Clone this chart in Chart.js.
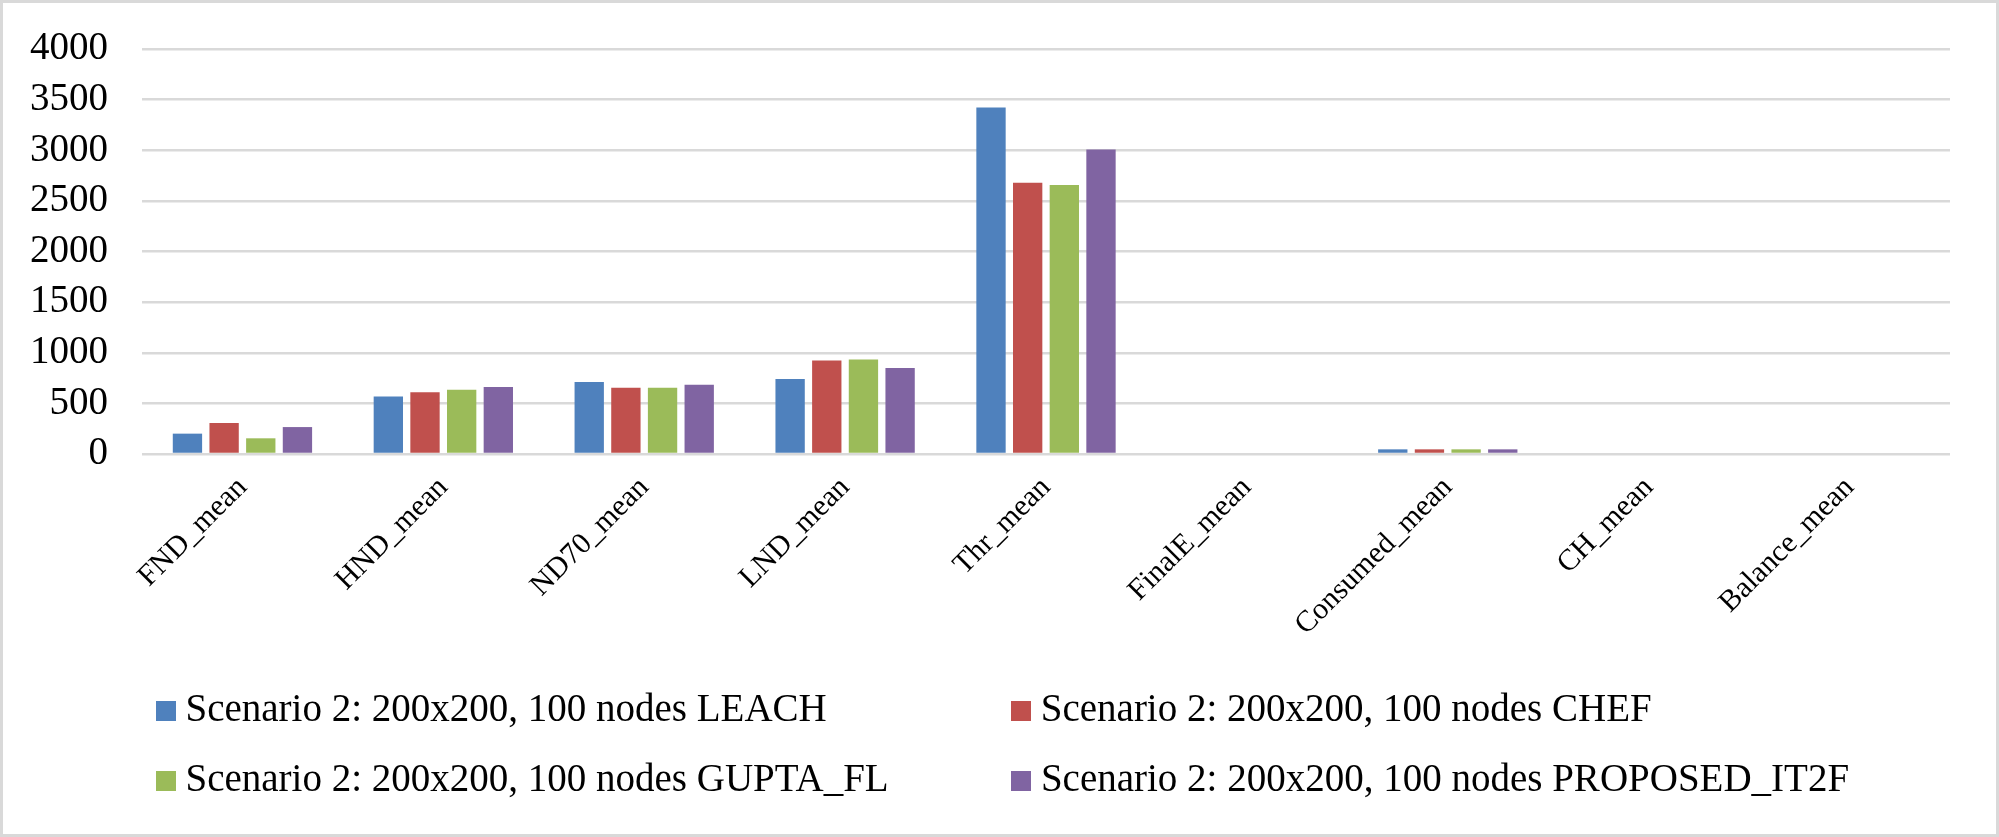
<!DOCTYPE html>
<html>
<head>
<meta charset="utf-8">
<script src="https://cdn.jsdelivr.net/npm/chart.js@4.4.0/dist/chart.umd.min.js"></script>
<style>
    html, body { margin: 0; padding: 0; background: #ffffff; }
    #wrap { width: 1999px; height: 837px; box-sizing: border-box; border: 3px solid #d9d9d9; }
    canvas { display: block; }
</style>
</head>
<body>
<div id="wrap"><canvas id="chart" width="1993" height="831"></canvas></div>
<script>
const categories = ['FND_mean', 'HND_mean', 'ND70_mean', 'LND_mean', 'Thr_mean', 'FinalE_mean', 'Consumed_mean', 'CH_mean', 'Balance_mean'];

const leach = [201, 569, 711, 740, 3422, 0, 46, 0, 0];
const chef = [306, 609, 655, 924, 2678, 0, 46, 0, 0];
const gupta = [155, 635, 655, 934, 2658, 0, 46, 0, 0];
const proposed = [266, 661, 684, 849, 3007, 0, 46, 0, 0];

const seriesNames = [
    'Scenario 2: 200x200, 100 nodes LEACH',
    'Scenario 2: 200x200, 100 nodes CHEF',
    'Scenario 2: 200x200, 100 nodes GUPTA_FL',
    'Scenario 2: 200x200, 100 nodes PROPOSED_IT2F'
];

const yMax = 4000;
const yStep = 500;

const colors = ['#4f81bd', '#c0504d', '#9bbb59', '#8064a2'];
const font = 'Liberation Serif';

// legend: first-column texts are padded to this width so the second column lines up
const legendColWidth = 805;
const measure = document.createElement('canvas').getContext('2d');
measure.font = '39px "Liberation Serif"';

function padText(text, width) {
    let t = text;
    while (measure.measureText(t + ' ').width <= width) {
        t += ' ';
    }
    // finish with hair spaces for the last few pixels
    let guard = 0;
    while (measure.measureText(t + '\u200A').width <= width + 1 && guard < 40) {
        t += '\u200A';
        guard++;
    }
    return t;
}

// small square legend markers, drawn as images so the gap to the text stays tight
function marker(color) {
    const c = document.createElement('canvas');
    c.width = 20;
    c.height = 20;
    const ctx = c.getContext('2d');
    ctx.fillStyle = color;
    ctx.fillRect(0, 0, 20, 20);
    return c;
}

// push the legend in line with the plot instead of the canvas edge
const legendShift = {
    id: 'legendShift',
    afterLayout(chart) {
        if (chart.legend) {
            chart.legend.left = 131;
        }
    }
};

function setBarChart(idchart) {

    const data = {
        labels: categories,
        datasets: [leach, chef, gupta, proposed].map((values, i) => ({
            label: seriesNames[i],
            data: values,
            backgroundColor: colors[i],
            categoryPercentage: 0.73,
            barPercentage: 0.8
        }))
    };

    const config = {
        type: 'bar',
        data: data,
        plugins: [legendShift],
        options: {
            responsive: false,
            animation: false,
            layout: {
                padding: { left: 0, right: 46, top: 46, bottom: 24 }
            },
            scales: {
                x: {
                    grid: { display: false },
                    border: { display: false },
                    ticks: {
                        color: '#000000',
                        font: { family: font, size: 30 },
                        minRotation: 45,
                        maxRotation: 45,
                        padding: 8
                    },
                    afterFit: (scale) => { scale.height = 206; }
                },
                y: {
                    min: 0,
                    max: yMax,
                    grid: { color: '#d9d9d9', lineWidth: 2.5, drawTicks: false },
                    border: { display: false },
                    ticks: {
                        stepSize: yStep,
                        autoSkip: false,
                        color: '#000000',
                        font: { family: font, size: 39 },
                        padding: 34,
                        callback: (value) => String(value)
                    },
                    afterFit: (scale) => {
                        scale.width = 139;
                        scale.paddingTop = 0;
                        scale.paddingBottom = 0;
                    }
                }
            },
            plugins: {
                tooltip: { enabled: false },
                legend: {
                    position: 'bottom',
                    align: 'start',
                    labels: {
                        color: '#000000',
                        font: { family: font, size: 39 },
                        usePointStyle: true,
                        pointStyleWidth: 1,
                        boxHeight: 20,
                        padding: 31,
                        generateLabels: (chart) => {
                            const items = Chart.defaults.plugins.legend.labels.generateLabels(chart);
                            items.forEach((item, i) => {
                                if (i % 2 === 0) {
                                    item.text = padText(item.text, legendColWidth);
                                }
                                item.pointStyle = marker(colors[i]);
                                item.lineWidth = 0;
                            });
                            return items;
                        }
                    }
                }
            }
        }
    };

    new Chart(
        document.getElementById(idchart),
        config
    );
}

setBarChart('chart');
</script>
</body>
</html>
